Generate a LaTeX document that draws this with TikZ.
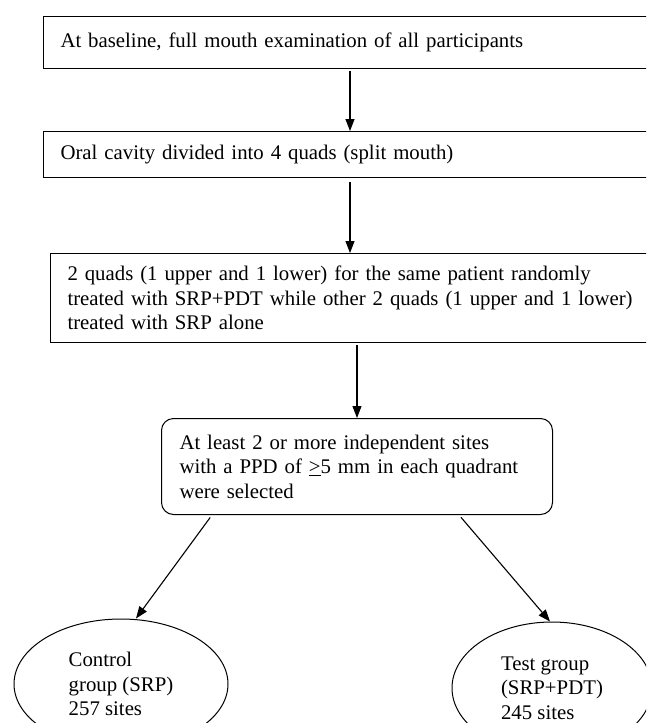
\documentclass[tikz,border=0pt]{standalone}
\usepackage{fontspec}
\setmainfont{Liberation Serif}
\usepackage{tikz}
\usetikzlibrary{shapes.geometric, arrows.meta}
\tikzstyle{arrow} = [line width=1.1pt,-{Triangle[length=12pt,width=9pt]}]
\tikzstyle{box} = [draw, rectangle, line width=1pt, anchor=north west, align=left, inner xsep=17pt]
\tikzstyle{grp} = [draw, ellipse, line width=1pt, align=left]

\begin{document}
\begin{tikzpicture}[x=1pt, y=-1pt, every node/.style={font=\fontsize{20.8}{24.5}\selectfont}]
\useasboundingbox (0,0) rectangle (646,723);
\clip (0,0) rectangle (646,723);
\coordinate (spine) at (350,0);
\node[box, text width=583pt, minimum height=52pt] (base) at (43,16)
  {At baseline, full mouth examination of all participants};
\node[box, text width=583pt, minimum height=46pt] (split) at (43,131)
  {Oral cavity divided into 4 quads (split mouth)};
\node[box, text width=576pt, minimum height=89pt] (treat) at (50,253)
  {2 quads (1 upper and 1 lower) for the same patient randomly\\
   treated with SRP+PDT while other 2 quads (1 upper and 1 lower)\\
   treated with SRP alone};
\node[box, rounded corners=12pt, inner xsep=18pt, text width=355pt, minimum height=96pt] (sites) at (161,418)
  {At least 2 or more independent sites\\
   with a PPD of \underline{>}5 mm in each quadrant\\
   were selected};
\node[grp, minimum width=214pt, minimum height=130pt] (ctrl) at (121,684)
  {Control\\group (SRP)\\257 sites};
\node[grp, minimum width=200pt, minimum height=132pt] (test) at (552,688)
  {Test group\\(SRP+PDT)\\245 sites};

\draw[arrow, shorten <=2pt] (base.south -| spine) -- (split.north -| spine);
\draw[arrow, shorten <=4pt] (split.south -| spine) -- (treat.north -| spine);
\draw[arrow, shorten <=2pt] (treat.south -| sites.north) -- (sites.north);
\draw[arrow, shorten <=3pt] ([xshift=-145pt]sites.south) -- ([xshift=15pt]ctrl.north);
\draw[arrow, shorten <=3pt] ([xshift=102pt]sites.south) -- ([xshift=-2pt]test.north);
\end{tikzpicture}
\end{document}
